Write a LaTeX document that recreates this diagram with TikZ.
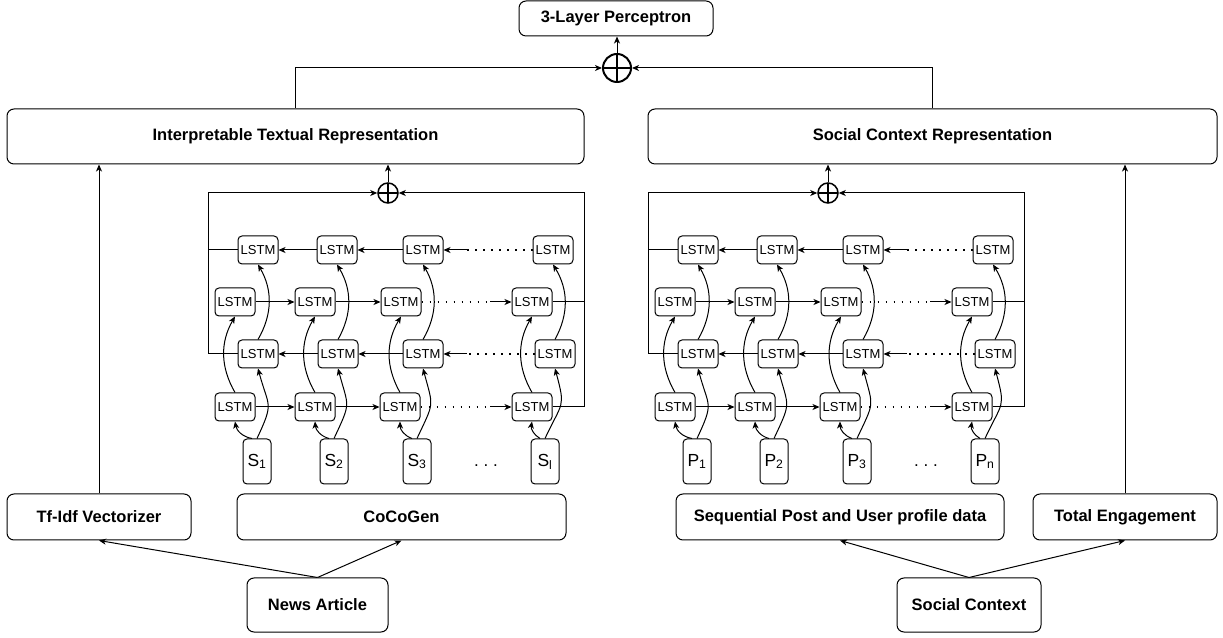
\documentclass[tikz,border=0pt]{standalone}
\usepackage{fontspec}
\setmainfont{Liberation Sans}
\usetikzlibrary{arrows.meta,positioning}

\begin{document}
\begin{tikzpicture}[x=1pt,y=1pt,
                box/.style={draw,rounded corners=7pt,line width=1pt,font=\fontsize{16.5}{20}\selectfont\bfseries},
                cell/.style={draw,rounded corners=4pt,line width=1pt,minimum width=40pt,minimum height=28pt,inner sep=0pt,font=\fontsize{13}{15}\selectfont},
                inp/.style={draw,rounded corners=4pt,line width=1pt,minimum width=28pt,minimum height=45pt,inner sep=0pt,font=\fontsize{17.5}{20}\selectfont},
                adder/.style={draw,circle,inner sep=0pt,line width=#1,
                    path picture={\draw[line width=#1] (path picture bounding box.north) -- (path picture bounding box.south)
                        (path picture bounding box.west) -- (path picture bounding box.east);}},
                arr/.style={-{Stealth[length=7pt,width=6pt,inset=2pt]},line width=1pt},
                dotline/.style={line width=1.6pt,dash pattern=on 1.6pt off 6.4pt}]
                %\draw[help lines] (0,0) grid (1223,637);
                \useasboundingbox (0,0) rectangle (1223,637);
                \node[box,minimum width=194pt,minimum height=35pt] (mlp) at (616,618.5) {3-Layer Perceptron};
                \node[adder=2pt,minimum size=28pt] (add) at (617,569) {};
                \node[box,minimum width=577pt,minimum height=55pt] (txt) at (295.5,500.5) {Interpretable Textual Representation};
                \node[box,minimum width=569pt,minimum height=55pt] (soc) at (932.5,500.5) {Social Context Representation};
                \node[box,minimum width=184pt,minimum height=46pt] (tfidf) at (99,120) {Tf-Idf Vectorizer};
                \node[box,minimum width=329pt,minimum height=46pt] (cocogen) at (401.5,120) {CoCoGen};
                \node[box,minimum width=328pt,minimum height=46pt] (seq) at (840,120) {Sequential Post and User profile data};
                \node[box,minimum width=184pt,minimum height=46pt] (eng) at (1125,120) {Total Engagement};
                \node[box,minimum width=141pt,minimum height=54pt] (news) at (317.5,32) {News Article};
                \node[box,minimum width=144pt,minimum height=54pt] (ctx) at (969,32) {Social Context};
                % the two stacked bidirectional LSTMs
                \foreach \s/\dx/\p/\q/\up in {l/0/S/l/txt, r/440/P/n/soc} {
                    \node[adder=1.5pt,minimum size=20pt] (sum\s) at (388+\dx,444) {};
                    \coordinate (fl\s) at (208+\dx,444);
                    \coordinate (fr\s) at (584+\dx,444);
                    \foreach \i/\xa/\xb/\xc/\xd/\xs/\t in {1/258/235/258/235/257/1, 2/337/315/338/315/334/2,
                            3/423/401/423/400/417/3, 4/553/532/555/532/545/\q} {
                        \node[cell] (a\i\s) at (\xa+\dx,387) {LSTM};
                        \node[cell] (b\i\s) at (\xb+\dx,335) {LSTM};
                        \node[cell] (c\i\s) at (\xc+\dx,283) {LSTM};
                        \node[cell] (d\i\s) at (\xd+\dx,230) {LSTM};
                        \node[inp] (in\i\s) at (\xs+\dx,175.5) {\p\textsubscript{\t}};
                        \draw[arr] (d\i\s.north) to[bend left=30] (b\i\s.south);
                        \draw[arr] (c\i\s.north) to[bend right=30] (a\i\s.south);
                        \draw[arr] ([xshift=-5pt]in\i\s.north) to[bend left=35] (d\i\s.south);
                        \draw[arr] (in\i\s.north) to[out=65,in=-75,looseness=1.5] (c\i\s.south);
                    }
                    \node[font=\fontsize{17}{20}\selectfont,anchor=base] (dots\s) at (486+\dx,170.5) {.\ .\ .};
                    \coordinate (ka\s) at (467+\dx,387);
                    \coordinate (kb\s) at (490+\dx,335);
                    \coordinate (kc\s) at (467+\dx,283);
                    \coordinate (kd\s) at (490+\dx,230);
                    \draw[arr] (a2\s) -- (a1\s);
                    \draw[arr] (a3\s) -- (a2\s);
                    \draw[dotline] (a4\s) -- (ka\s);
                    \draw[arr] (ka\s) -- (a3\s);
                    \draw[arr] (c2\s) -- (c1\s);
                    \draw[arr] (c3\s) -- (c2\s);
                    \draw[dotline] (c4\s) -- (kc\s);
                    \draw[arr] (kc\s) -- (c3\s);
                    \draw[arr] (b1\s) -- (b2\s);
                    \draw[arr] (b2\s) -- (b3\s);
                    \draw[dotline] (b3\s) -- (kb\s);
                    \draw[arr] (kb\s) -- (b4\s);
                    \draw[arr] (d1\s) -- (d2\s);
                    \draw[arr] (d2\s) -- (d3\s);
                    \draw[dotline] (d3\s) -- (kd\s);
                    \draw[arr] (kd\s) -- (d4\s);
                    \draw[arr] (c1\s) -| (fl\s) -- (sum\s);
                    \draw[line width=1pt] (a1\s) -- (a1\s -| fl\s);
                    \draw[arr] (d4\s) -| (fr\s) -- (sum\s);
                    \draw[line width=1pt] (b4\s) -- (b4\s -| fr\s);
                    \draw[arr] (sum\s) -- (sum\s |- \up.south);
                }
                \draw[arr] (txt) |- (add);
                \draw[arr] (soc) |- (add);
                \draw[arr] (add.north) -- (add.north |- mlp.south);
                \draw[arr] (tfidf) -- (tfidf |- txt.south);
                \draw[arr] (eng) -- (eng |- soc.south);
                \draw[arr] (news.north) -- (tfidf.south);
                \draw[arr] (news.north) -- (cocogen.south);
                \draw[arr] (ctx.north) -- (seq.south);
                \draw[arr] (ctx.north) -- (eng.south);
            \end{tikzpicture}
\end{document}
